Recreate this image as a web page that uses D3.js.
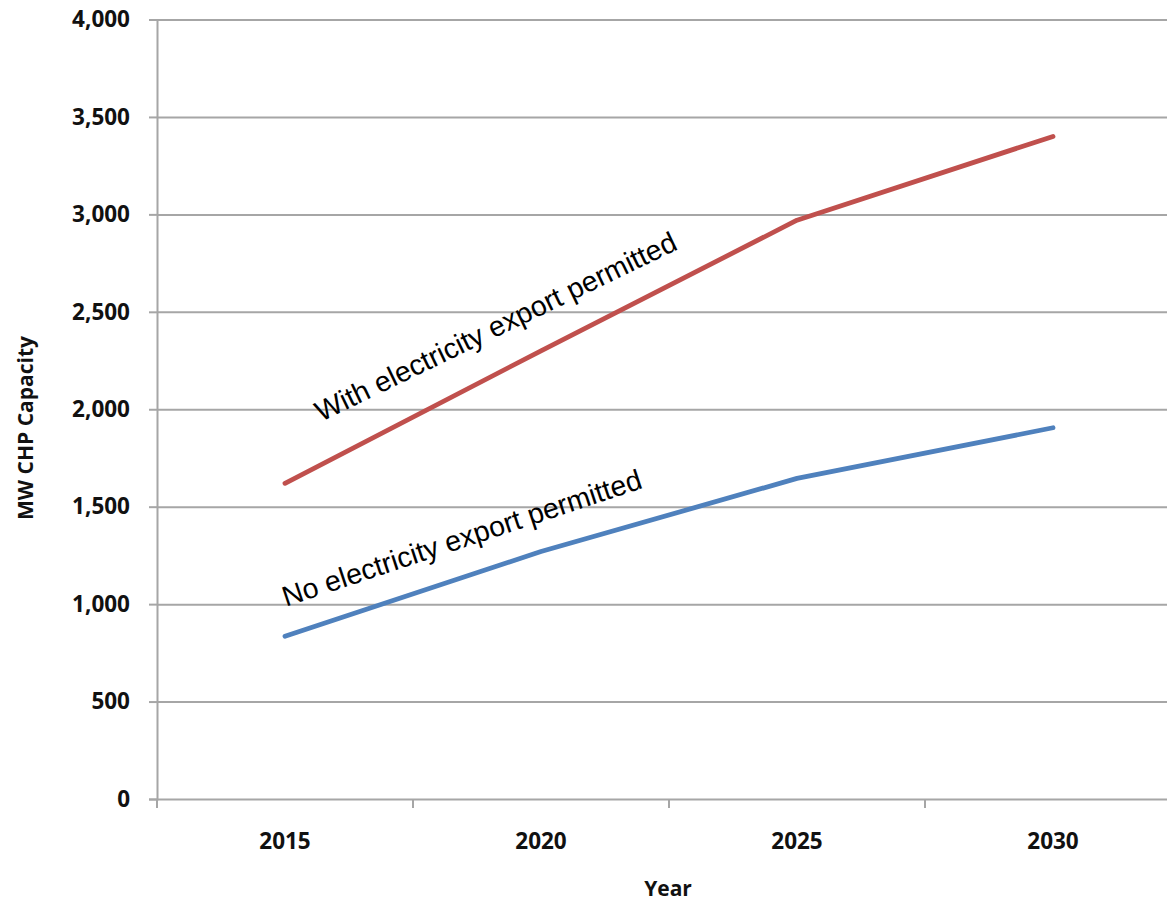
<!DOCTYPE html>
<html>
<head>
<meta charset="utf-8">
<script src="https://cdn.jsdelivr.net/npm/d3@7"></script>
<style>
  body { margin: 0; background: #fff; }
  svg { display: block; }
</style>
</head>
<body>
<script>
// Chart data
const years = ["2015", "2020", "2025", "2030"];
const withExport = [1620, 2300, 2970, 3400];
const noExport = [835, 1270, 1645, 1905];
const yTicks = [0, 500, 1000, 1500, 2000, 2500, 3000, 3500, 4000];

const width = 1167;
const height = 903;
const marginLeft = 157;
const marginTop = 19.5;
const plotBottom = 799;

// Scales
const x = d3.scaleBand(years, [marginLeft, marginLeft + 256 * years.length]).padding(0);
const y = d3.scaleLinear([0, 4000], [plotBottom, marginTop]);

const svg = d3.select("body").append("svg")
    .attr("width", width)
    .attr("height", height)
    .attr("viewBox", [0, 0, width, height]);

const gridColor = "#a6a6a6";

// Horizontal gridlines + y axis
svg.append("g")
    .attr("transform", `translate(${marginLeft},0)`)
    .call(d3.axisLeft(y).tickValues(yTicks).tickSize(8).tickPadding(19).tickFormat(d3.format(",")))
    .call(g => g.select(".domain").attr("stroke", gridColor).attr("stroke-width", 2))
    .call(g => g.selectAll(".tick line").attr("stroke", gridColor).attr("stroke-width", 2))
    .call(g => g.selectAll(".tick").append("line")
        .attr("x1", 0).attr("x2", width - marginLeft)
        .attr("stroke", gridColor).attr("stroke-width", 2))
    .call(g => g.selectAll(".tick text")
        .attr("font-family", "'Open Sans', sans-serif")
        .attr("font-weight", 700)
        .attr("font-size", 22.5)
        .attr("fill", "#111"));

// x axis: ticks at category boundaries, labels at centers
const xAxis = svg.append("g").attr("transform", `translate(0,${plotBottom})`);
xAxis.selectAll("line.bound")
    .data(years.slice(1))
    .join("line")
    .attr("class", "bound")
    .attr("x1", d => x(d)).attr("x2", d => x(d))
    .attr("y1", 0).attr("y2", 9)
    .attr("stroke", gridColor).attr("stroke-width", 2);
xAxis.append("line")
    .attr("x1", marginLeft).attr("x2", marginLeft)
    .attr("y1", 0).attr("y2", 9)
    .attr("stroke", gridColor).attr("stroke-width", 2);
xAxis.selectAll("text")
    .data(years)
    .join("text")
    .attr("x", d => x(d) + x.bandwidth() / 2)
    .attr("y", 50)
    .attr("text-anchor", "middle")
    .attr("font-family", "'Open Sans', sans-serif")
    .attr("font-weight", 700)
    .attr("font-size", 22.5)
    .attr("fill", "#111")
    .text(d => d);

// Axis titles
svg.append("text")
    .attr("x", 668)
    .attr("y", 896)
    .attr("text-anchor", "middle")
    .attr("font-family", "'Open Sans', sans-serif")
    .attr("font-weight", 700)
    .attr("font-size", 21)
    .attr("fill", "#111")
    .text("Year");

svg.append("text")
    .attr("transform", "translate(33,428) rotate(-90)")
    .attr("text-anchor", "middle")
    .attr("font-family", "'Open Sans', sans-serif")
    .attr("font-weight", 700)
    .attr("font-size", 21)
    .attr("fill", "#111")
    .text("MW CHP Capacity");

// Lines
const line = d3.line()
    .x((d, i) => x(years[i]) + x.bandwidth() / 2)
    .y(d => y(d));

const series = [
  { name: "With electricity export permitted", values: withExport, color: "#c0504d" },
  { name: "No electricity export permitted", values: noExport, color: "#4f81bd" }
];

svg.append("g")
    .attr("fill", "none")
    .attr("stroke-width", 4.8)
    .attr("stroke-linecap", "round")
    .attr("stroke-linejoin", "round")
    .selectAll("path")
    .data(series)
    .join("path")
    .attr("stroke", d => d.color)
    .attr("d", d => line(d.values));

// Rotated annotations
const labels = [
  { text: series[0].name, dx: 36, v: 1935, angle: -25.8 },
  { text: series[1].name, dx: 1, v: 986, angle: -18.4 }
];

svg.append("g")
    .selectAll("text")
    .data(labels)
    .join("text")
    .attr("transform", d => `translate(${x("2015") + x.bandwidth() / 2 + d.dx},${y(d.v)}) rotate(${d.angle})`)
    .attr("font-family", "'Liberation Sans', Arial, sans-serif")
    .attr("font-size", 28.5)
    .attr("fill", "#000")
    .text(d => d.text);
</script>
</body>
</html>
